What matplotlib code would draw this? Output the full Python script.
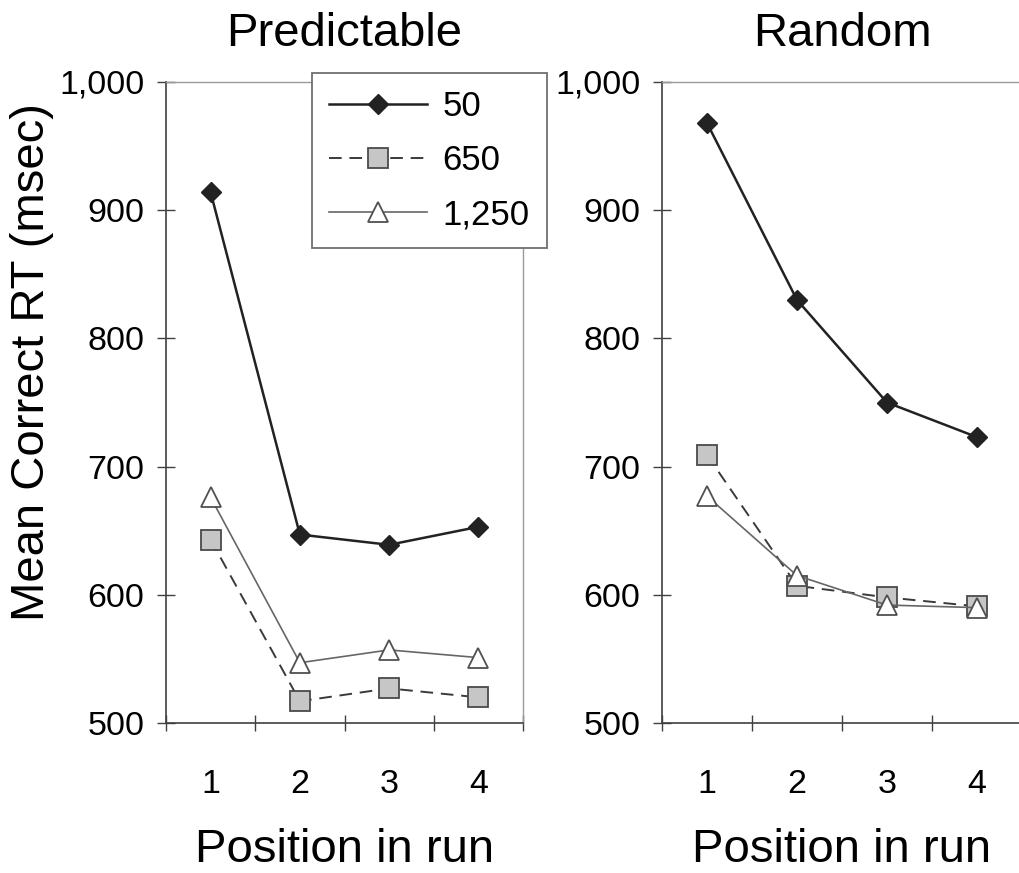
import matplotlib
matplotlib.use("Agg")
import matplotlib.pyplot as plt
from matplotlib.ticker import FixedLocator, FuncFormatter

# Mean correct RT by position in run, for three response-stimulus intervals
positions = [1, 2, 3, 4]
position_labels = ["1", "2", "3", "4"]
interval_labels = ["50", "650", "1,250"]
panel_titles = ["Predictable", "Random"]

predictable_50 = [914, 647, 639, 653]
predictable_650 = [643, 517, 527, 520]
predictable_1250 = [676, 547, 557, 551]

random_50 = [968, 830, 750, 723]
random_650 = [709, 607, 598, 591]
random_1250 = [677, 615, 592, 590]

y_ticks = [500, 600, 700, 800, 900, 1000]

plt.rcParams["font.family"] = ["Liberation Sans", "DejaVu Sans"]

W, H = 1019, 873
fig = plt.figure(figsize=(W / 100, H / 100), dpi=100)
fig.patch.set_facecolor("white")

styles = [
    dict(color="#222222", lw=1.8, ls="-", marker="D", ms=10.5,
         mfc="#222222", mec="#222222", mew=1.0),
    dict(color="#3a3a3a", lw=1.4, ls=(0, (6.5, 4.0)), marker="s", ms=14,
         mfc="#c6c6c6", mec="#4a4a4a", mew=1.3),
    dict(color="#666666", lw=1.2, ls="-", marker="^", ms=14,
         mfc="white", mec="#505050", mew=1.3),
]


def px_rect(x0, x1, top, bottom):
    return [x0 / W, 1 - bottom / H, (x1 - x0) / W, (bottom - top) / H]


ax_left = fig.add_axes(px_rect(166, 523, 82, 723))
ax_right = fig.add_axes(px_rect(662, 1022, 82, 723))

panels = [
    (ax_left, [predictable_50, predictable_650, predictable_1250]),
    (ax_right, [random_50, random_650, random_1250]),
]

handles = []
for i, (ax, series) in enumerate(panels):
    for vals, st, lab in zip(series, styles, interval_labels):
        (ln,) = ax.plot(positions, vals, label=lab, clip_on=False, **st)
        if i == 0:
            handles.append(ln)

    ax.set_xlim(0.5, 4.5)
    ax.set_ylim(500, 1000)
    ax.yaxis.set_major_locator(FixedLocator(y_ticks))
    ax.yaxis.set_major_formatter(FuncFormatter(lambda v, p: f"{int(v):,}"))
    ax.xaxis.set_major_locator(FixedLocator(positions))
    ax.set_xticklabels(position_labels)
    ax.xaxis.set_minor_locator(FixedLocator([0.5, 1.5, 2.5, 3.5, 4.5]))

    ax.tick_params(axis="y", which="major", direction="inout", length=13,
                   width=1.0, color="#404040", pad=9, labelsize=24.5)
    ax.tick_params(axis="x", which="major", length=0, pad=33, labelsize=24.5)
    ax.tick_params(axis="x", which="minor", direction="inout", length=12,
                   width=1.0, color="#404040")

    for side in ("left", "bottom"):
        ax.spines[side].set_color("#404040")
        ax.spines[side].set_linewidth(1.2)
    for side in ("top", "right"):
        ax.spines[side].set_color("#9a9a9a")
        ax.spines[side].set_linewidth(1.0)

    ax.set_title(panel_titles[i], fontsize=34, pad=26)
    ax.set_xlabel("Position in run", fontsize=34, labelpad=20)

ax_right.spines["right"].set_visible(False)

fig.text(32 / W, 1 - 362 / H, "Mean Correct RT (msec)", rotation=90,
         ha="center", va="center", fontsize=34)

leg = fig.legend(handles, interval_labels, loc="upper left",
                 bbox_to_anchor=(312 / W, 1 - 73 / H), frameon=True,
                 fancybox=False, framealpha=1, edgecolor="#707070",
                 fontsize=25, handlelength=2.8, handletextpad=0.45,
                 labelspacing=0.6, borderpad=0.5, borderaxespad=0)
leg.get_frame().set_linewidth(1.3)

fig.savefig("out.png", dpi=100, facecolor="white")
